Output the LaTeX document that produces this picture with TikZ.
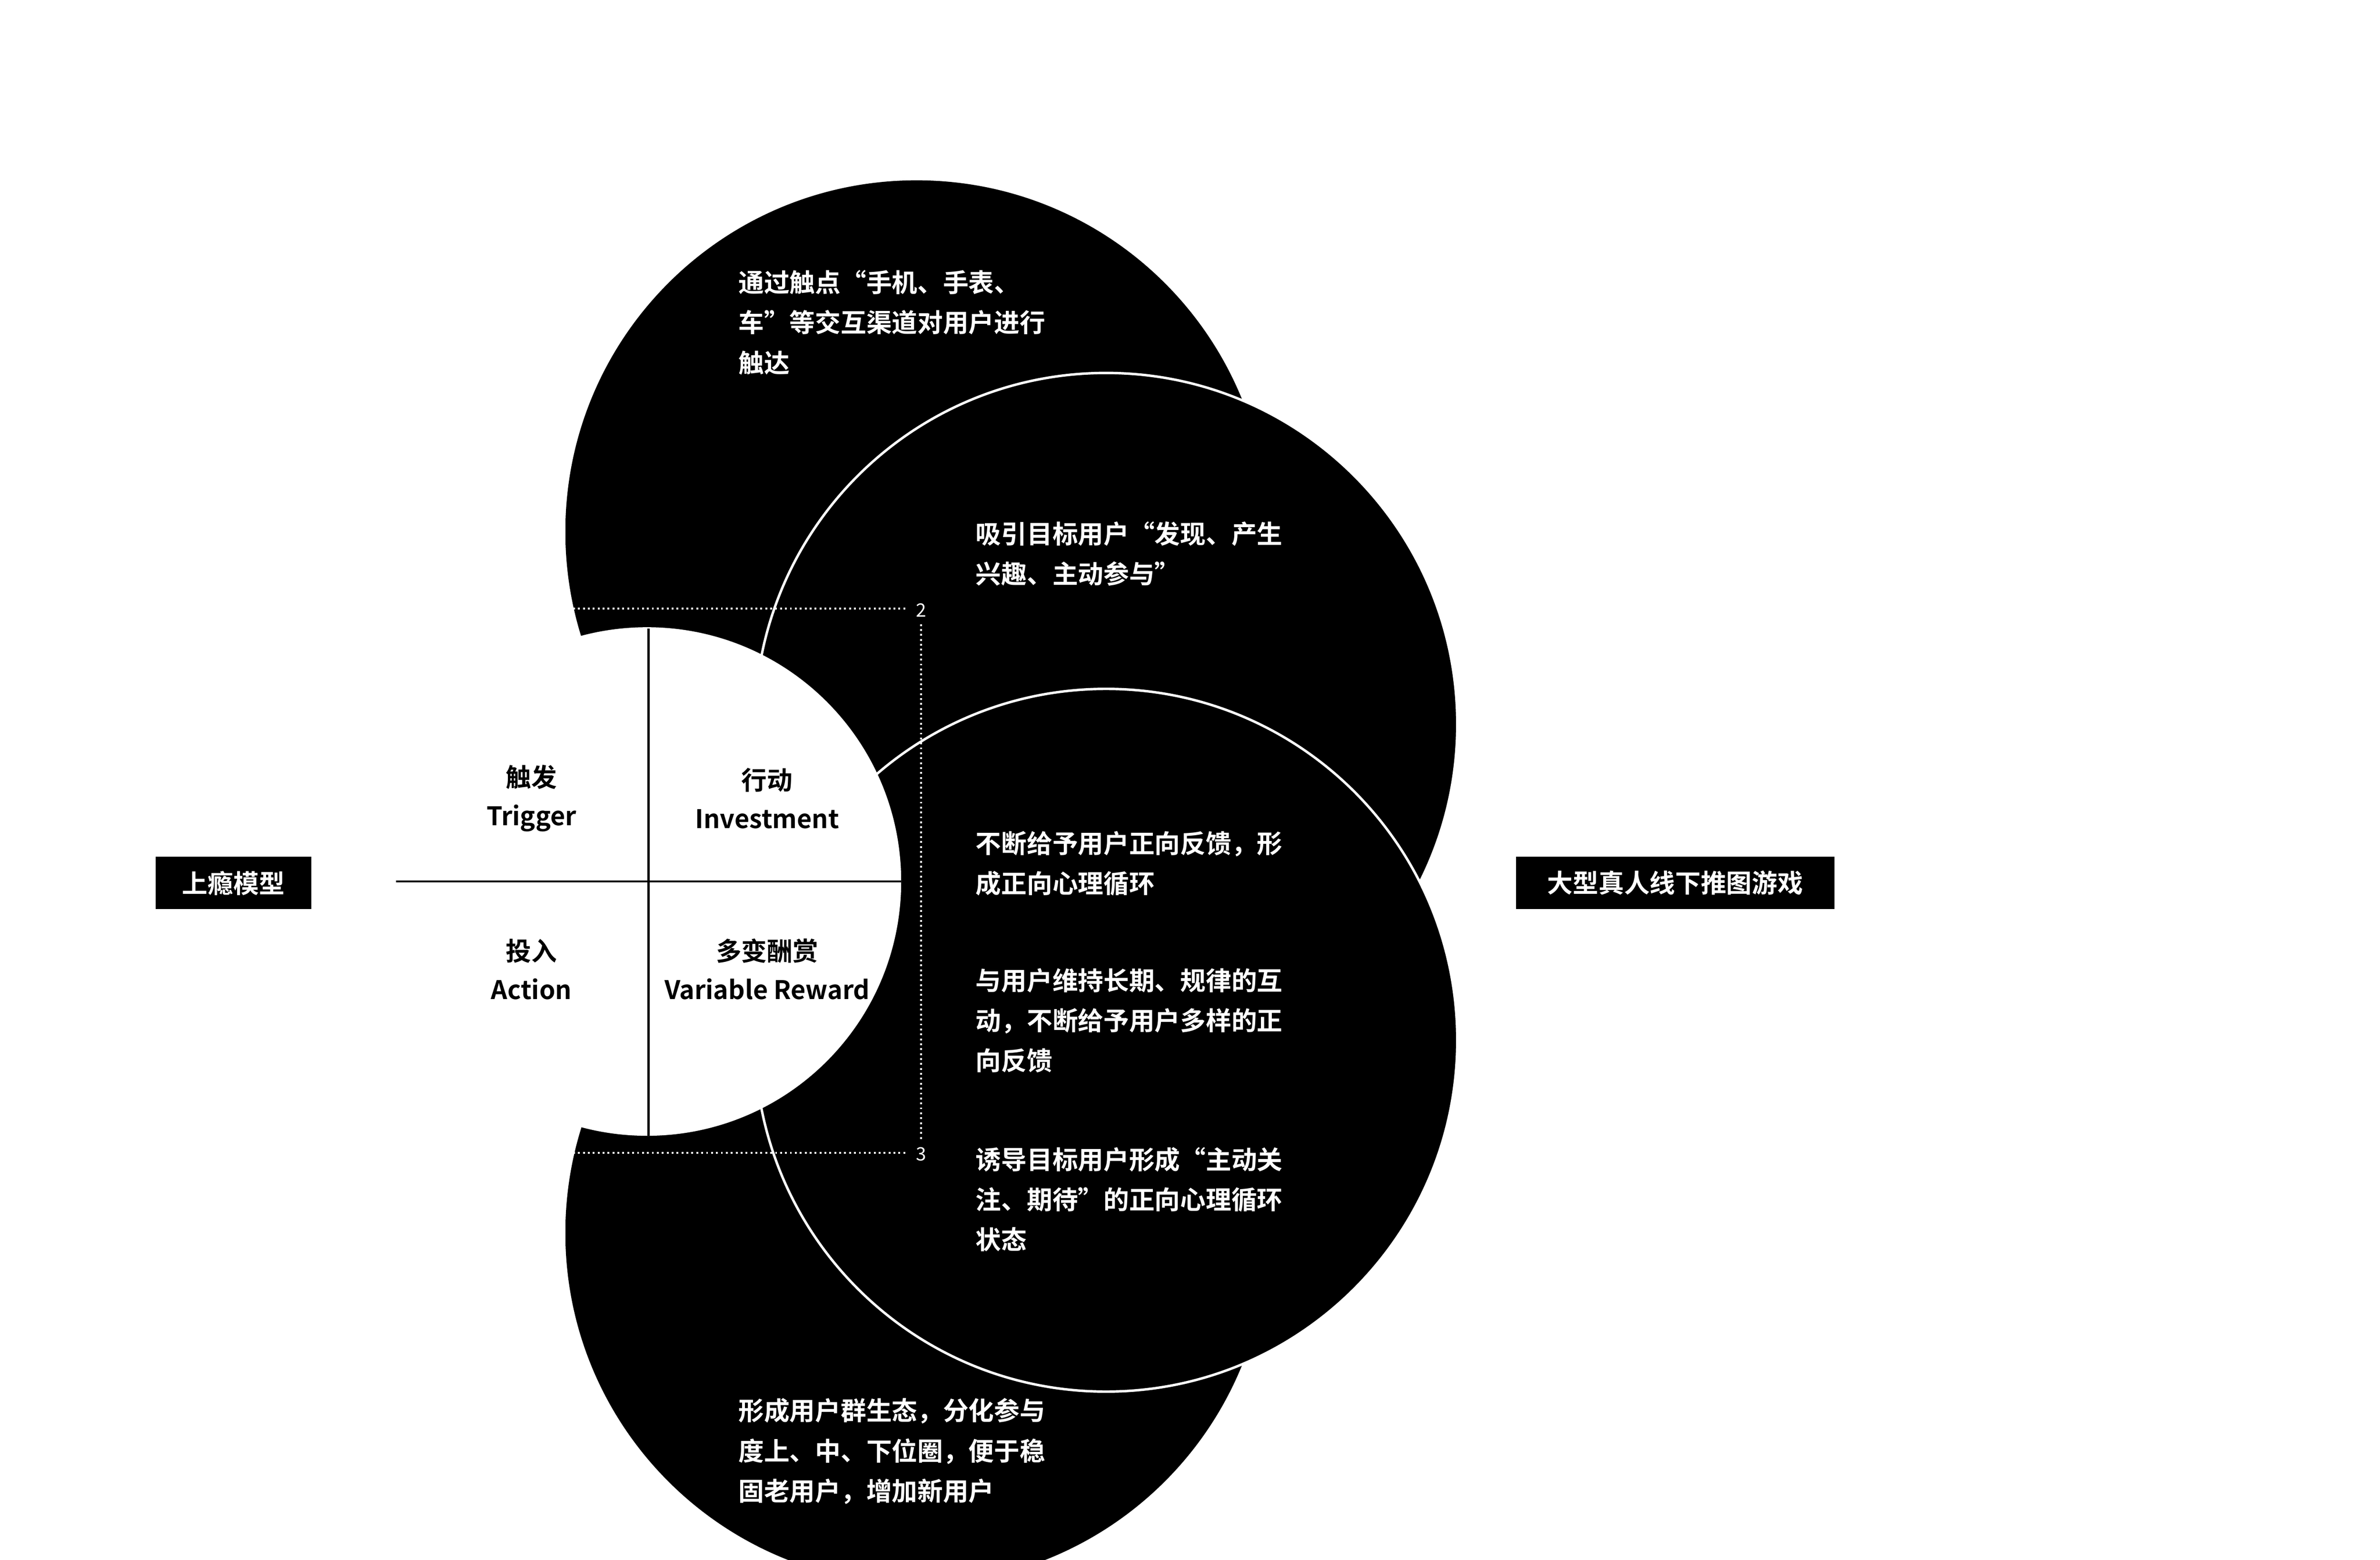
\documentclass[tikz,border=0pt]{standalone}
\usepackage{fontspec}
\setmainfont{Noto Sans CJK SC}
\newfontfamily\cjkb{Noto Sans CJK SC Bold}
\begin{document}
\begin{tikzpicture}[x=0.5pt,y=-0.5pt,
  wtxt/.style={text=white,font={\cjkb\fontsize{8.3}{13}\selectfont},align=left,anchor=north west,inner sep=0pt},
  qtxt/.style={text=black,font={\cjkb\fontsize{8.3}{12.5}\selectfont},align=center,inner sep=0pt},
  tag/.style={fill=black,text=white,font={\cjkb\fontsize{8.3}{10}\selectfont},minimum height=17pt,inner xsep=0pt},
  dotl/.style={white,densely dotted,line width=0.6pt}]
\useasboundingbox[fill=white] (0,0) rectangle (1545,1012);
\fill[black] (595,345) circle (228);
\fill[black] (595,800) circle (228);
\filldraw[fill=black,draw=white,line width=0.8pt] (718,470) circle (228);
\filldraw[fill=black,draw=white,line width=0.8pt] (718,675) circle (228);
\fill[white] (420,572) circle (165);
\fill[white] (0,0) rectangle (367,1012);
\coordinate (h1) at (257,572); \coordinate (h2) at (585,572);
\coordinate (v1) at (421,408); \coordinate (v2) at (421,737);
\draw[line width=0.7pt] (h1) -- (h2);
\draw[line width=0.7pt] (v1) -- (v2);
\coordinate (d1) at (372,395); \coordinate (d2) at (588,395);
\coordinate (d3) at (372,748); \coordinate (d4) at (588,748);
\coordinate (d5) at (598,405); \coordinate (d6) at (598,740);
\draw[dotl] (d1) -- (d2); \draw[dotl] (d3) -- (d4); \draw[dotl] (d5) -- (d6);
\node[text=white,font=\fontsize{6}{7}\selectfont,inner sep=0pt] (n2) at (598,396) {2};
\node[text=white,font=\fontsize{6}{7}\selectfont,inner sep=0pt] (n3) at (598,749) {3};
\node[tag,minimum width=101pt/2] (l) at (151.5,573) {上瘾模型};
\node[tag,minimum width=207pt/2] (r) at (1087.5,573) {大型真人线下推图游戏};
\node[qtxt] (q1) at (345,518) {触发\\Trigger};
\node[qtxt] (q2) at (498,518) {行动\\Investment};
\node[qtxt] (q3) at (345,629) {投入\\Action};
\node[qtxt] (q4) at (498,629) {多变酬赏\\Variable Reward};
\node[wtxt] (t1) at (479,175) {通过触点“手机、手表、\\车”等交互渠道对用户进行\\触达};
\node[wtxt] (t2) at (633,338) {吸引目标用户“发现、产生\\兴趣、主动参与”};
\node[wtxt] (t3) at (633,539) {不断给予用户正向反馈，形\\成正向心理循环};
\node[wtxt] (t4) at (633,628) {与用户维持长期、规律的互\\动，不断给予用户多样的正\\向反馈};
\node[wtxt] (t5) at (633,744) {诱导目标用户形成“主动关\\注、期待”的正向心理循环\\状态};
\node[wtxt] (t6) at (479,907) {形成用户群生态，分化参与\\度上、中、下位圈，便于稳\\固老用户，增加新用户};
\end{tikzpicture}
\end{document}
